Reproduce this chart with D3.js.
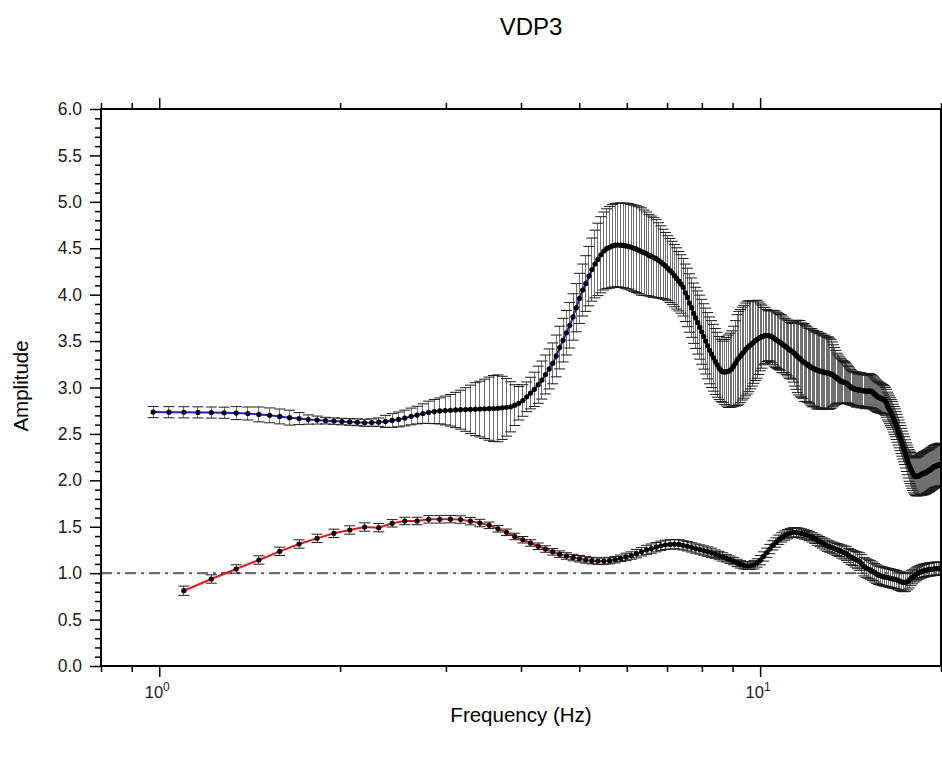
<!DOCTYPE html>
<html>
<head>
<meta charset="utf-8">
<script src="https://cdn.jsdelivr.net/npm/d3@7"></script>
<style>
  body { margin: 0; background: #fff; }
  svg { display: block; font-family: "Liberation Sans", Arial, Helvetica, sans-serif; }
</style>
</head>
<body>
<svg id="chart" width="942" height="757"></svg>
<script>
// ---- Spectral ratio for station VDP3 ----
// Upper curve: amplitude spectrum (0.061 Hz bins), mean +/- one standard deviation
const upperFreq = [
0.977,1.038,1.099,1.160,1.221,1.282,1.343,1.404,1.465,1.526,
1.587,1.648,1.709,1.770,1.831,1.892,1.953,2.014,2.075,2.136,
2.197,2.258,2.319,2.380,2.441,2.502,2.563,2.625,2.686,2.747,
2.808,2.869,2.930,2.991,3.052,3.113,3.174,3.235,3.296,3.357,
3.418,3.479,3.540,3.601,3.662,3.723,3.784,3.845,3.906,3.967,
4.028,4.089,4.150,4.211,4.272,4.333,4.395,4.456,4.517,4.578,
4.639,4.700,4.761,4.822,4.883,4.944,5.005,5.066,5.127,5.188,
5.249,5.310,5.371,5.432,5.493,5.554,5.615,5.676,5.737,5.798,
5.859,5.920,5.981,6.042,6.104,6.165,6.226,6.287,6.348,6.409,
6.470,6.531,6.592,6.653,6.714,6.775,6.836,6.897,6.958,7.019,
7.080,7.141,7.202,7.263,7.324,7.385,7.446,7.507,7.568,7.629,
7.690,7.751,7.812,7.874,7.935,7.996,8.057,8.118,8.179,8.240,
8.301,8.362,8.423,8.484,8.545,8.606,8.667,8.728,8.789,8.850,
8.911,8.972,9.033,9.094,9.155,9.216,9.277,9.338,9.399,9.460,
9.521,9.583,9.644,9.705,9.766,9.827,9.888,9.949,10.010,10.071,
10.132,10.193,10.254,10.315,10.376,10.437,10.498,10.559,10.620,10.681,
10.742,10.803,10.864,10.925,10.986,11.047,11.108,11.169,11.230,11.292,
11.353,11.414,11.475,11.536,11.597,11.658,11.719,11.780,11.841,11.902,
11.963,12.024,12.085,12.146,12.207,12.268,12.329,12.390,12.451,12.512,
12.573,12.634,12.695,12.756,12.817,12.878,12.939,13.000,13.062,13.123,
13.184,13.245,13.306,13.367,13.428,13.489,13.550,13.611,13.672,13.733,
13.794,13.855,13.916,13.977,14.038,14.099,14.160,14.221,14.282,14.343,
14.404,14.465,14.526,14.587,14.648,14.709,14.771,14.832,14.893,14.954,
15.015,15.076,15.137,15.198,15.259,15.320,15.381,15.442,15.503,15.564,
15.625,15.686,15.747,15.808,15.869,15.930,15.991,16.052,16.113,16.174,
16.235,16.296,16.357,16.418,16.479,16.541,16.602,16.663,16.724,16.785,
16.846,16.907,16.968,17.029,17.090,17.151,17.212,17.273,17.334,17.395,
17.456,17.517,17.578,17.639,17.700,17.761,17.822,17.883,17.944,18.005,
18.066,18.127,18.188,18.249,18.311,18.372,18.433,18.494,18.555,18.616,
18.677,18.738,18.799,18.860,18.921,18.982,19.043,19.104,19.165,19.226,
19.287,19.348,19.409,19.470,19.531,19.592,19.653,19.714,19.775,19.836,
19.897,19.958
];
const upperAmp = [
2.735,2.734,2.733,2.732,2.730,2.728,2.724,2.72,2.71,2.70,
2.688,2.675,2.665,2.655,2.649,2.643,2.638,2.633,2.629,2.625,
2.620,2.622,2.627,2.635,2.645,2.656,2.671,2.688,2.703,2.719,
2.733,2.741,2.748,2.752,2.755,2.758,2.761,2.763,2.765,2.767,
2.768,2.770,2.772,2.774,2.776,2.781,2.786,2.792,2.81,2.83,
2.86,2.90,2.94,2.98,3.03,3.08,3.14,3.20,3.26,3.34,
3.43,3.51,3.59,3.67,3.76,3.86,3.96,4.05,4.12,4.20,
4.27,4.33,4.38,4.43,4.47,4.495,4.51,4.525,4.533,4.535,
4.533,4.53,4.525,4.52,4.51,4.50,4.49,4.478,4.465,4.452,
4.44,4.425,4.412,4.40,4.388,4.37,4.352,4.33,4.31,4.285,
4.26,4.235,4.205,4.175,4.145,4.115,4.08,4.02,3.97,3.91,
3.86,3.80,3.75,3.70,3.65,3.60,3.55,3.50,3.45,3.40,
3.36,3.32,3.28,3.245,3.21,3.185,3.17,3.168,3.17,3.175,
3.185,3.20,3.23,3.26,3.295,3.32,3.34,3.365,3.385,3.41,
3.43,3.445,3.46,3.475,3.49,3.505,3.52,3.53,3.54,3.548,
3.555,3.56,3.56,3.558,3.555,3.55,3.54,3.53,3.515,3.505,
3.495,3.485,3.47,3.46,3.45,3.44,3.425,3.41,3.40,3.39,
3.378,3.365,3.35,3.335,3.32,3.31,3.295,3.28,3.27,3.26,
3.25,3.24,3.23,3.22,3.212,3.205,3.198,3.19,3.186,3.182,
3.178,3.174,3.17,3.167,3.164,3.16,3.157,3.154,3.15,3.145,
3.14,3.13,3.12,3.11,3.10,3.09,3.08,3.07,3.065,3.06,
3.055,3.05,3.045,3.035,3.025,3.015,3.005,2.995,2.99,2.985,
2.98,2.978,2.976,2.974,2.972,2.97,2.968,2.966,2.964,2.962,
2.962,2.961,2.96,2.96,2.96,2.958,2.95,2.94,2.93,2.92,
2.91,2.90,2.895,2.89,2.885,2.88,2.875,2.87,2.865,2.85,
2.83,2.80,2.78,2.76,2.74,2.72,2.70,2.67,2.645,2.62,
2.59,2.56,2.53,2.50,2.47,2.44,2.41,2.38,2.35,2.32,
2.285,2.25,2.22,2.19,2.16,2.14,2.12,2.10,2.08,2.06,
2.05,2.04,2.04,2.042,2.045,2.05,2.055,2.06,2.065,2.07,
2.073,2.076,2.08,2.085,2.09,2.095,2.10,2.105,2.11,2.12,
2.125,2.13,2.14,2.145,2.15,2.153,2.156,2.16,2.163,2.166,
2.168,2.17
];
const upperErr = [
.06,.06,.06,.06,.06,.06,.07,.07,.08,.08,
.08,.08,.065,.05,.043,.036,.035,.035,.036,.037,
.038,.04,.045,.065,.074,.08,.085,.09,.095,.105,
.12,.13,.14,.155,.17,.19,.21,.235,.26,.285,
.30,.32,.34,.355,.36,.34,.31,.27,.22,.18,
.17,.16,.17,.185,.2,.205,.21,.215,.22,.225,
.23,.235,.24,.245,.25,.26,.27,.28,.30,.32,
.34,.365,.39,.41,.42,.43,.44,.445,.45,.45,
.455,.455,.46,.46,.463,.465,.467,.468,.47,.46,
.45,.44,.435,.43,.42,.405,.39,.375,.36,.35,
.345,.34,.335,.33,.32,.315,.31,.31,.315,.315,
.32,.325,.33,.34,.345,.35,.352,.355,.357,.36,
.36,.36,.355,.35,.34,.335,.33,.35,.37,.39,
.40,.41,.43,.46,.49,.5,.5,.5,.5,.5,
.5,.49,.475,.46,.445,.43,.42,.39,.36,.34,
.31,.30,.28,.27,.27,.28,.29,.30,.30,.30,
.30,.30,.31,.30,.29,.30,.30,.31,.30,.30,
.32,.35,.37,.39,.40,.41,.40,.40,.42,.41,
.405,.40,.405,.41,.42,.41,.40,.41,.42,.405,
.40,.41,.395,.39,.40,.385,.385,.39,.38,.37,
.35,.33,.31,.29,.27,.26,.25,.245,.24,.23,
.225,.22,.21,.205,.20,.195,.19,.185,.183,.18,
.18,.19,.18,.17,.18,.19,.18,.17,.18,.19,
.18,.17,.18,.19,.18,.178,.176,.174,.172,.17,
.168,.166,.164,.162,.16,.158,.156,.154,.152,.15,
.15,.15,.15,.15,.15,.15,.15,.15,.15,.15,
.15,.15,.15,.15,.15,.15,.15,.15,.15,.15,
.152,.155,.16,.165,.17,.175,.18,.185,.19,.195,
.20,.20,.205,.21,.21,.215,.22,.22,.225,.225,
.23,.23,.23,.23,.23,.23,.23,.23,.23,.23,
.23,.23,.23,.23,.23,.23,.23,.23,.23,.23,
.23,.23
];

// Lower curve: spectral ratio (0.122 Hz bins), mean +/- one standard deviation
const lowerFreq = [
1.099,1.221,1.343,1.465,1.587,1.709,1.831,1.953,2.075,2.197,
2.319,2.441,2.563,2.686,2.808,2.930,3.052,3.174,3.296,3.418,
3.540,3.662,3.784,3.906,4.028,4.150,4.272,4.395,4.517,4.639,
4.761,4.883,5.005,5.127,5.249,5.371,5.493,5.615,5.737,5.859,
5.981,6.104,6.226,6.348,6.470,6.592,6.714,6.836,6.958,7.080,
7.202,7.324,7.446,7.568,7.690,7.812,7.935,8.057,8.179,8.301,
8.423,8.545,8.667,8.789,8.911,9.033,9.155,9.277,9.399,9.521,
9.644,9.766,9.888,10.010,10.132,10.254,10.376,10.498,10.620,10.742,
10.864,10.986,11.108,11.230,11.353,11.475,11.597,11.719,11.841,11.963,
12.085,12.207,12.329,12.451,12.573,12.695,12.817,12.939,13.062,13.184,
13.306,13.428,13.550,13.672,13.794,13.916,14.038,14.160,14.282,14.404,
14.526,14.648,14.771,14.893,15.015,15.137,15.259,15.381,15.503,15.625,
15.747,15.869,15.991,16.113,16.235,16.357,16.479,16.602,16.724,16.846,
16.968,17.090,17.212,17.334,17.456,17.578,17.700,17.822,17.944,18.066,
18.188,18.311,18.433,18.555,18.677,18.799,18.921,19.043,19.165,19.287,
19.409,19.531,19.653,19.775,19.897
];
const lowerAmp = [
0.811,0.937,1.045,1.142,1.235,1.314,1.375,1.429,1.465,1.497,
1.49,1.537,1.562,1.562,1.58,1.58,1.582,1.578,1.56,1.54,
1.515,1.478,1.44,1.395,1.36,1.325,1.29,1.26,1.23,1.205,
1.185,1.168,1.155,1.143,1.135,1.13,1.13,1.135,1.145,1.16,
1.175,1.19,1.21,1.23,1.25,1.265,1.28,1.295,1.305,1.31,
1.312,1.31,1.30,1.29,1.278,1.265,1.255,1.243,1.232,1.22,
1.205,1.19,1.175,1.16,1.145,1.13,1.11,1.095,1.085,1.08,
1.082,1.09,1.11,1.14,1.18,1.22,1.26,1.30,1.33,1.36,
1.385,1.405,1.42,1.432,1.44,1.44,1.435,1.428,1.418,1.41,
1.40,1.385,1.37,1.355,1.34,1.325,1.31,1.295,1.285,1.275,
1.265,1.255,1.245,1.233,1.222,1.21,1.19,1.175,1.162,1.15,
1.138,1.125,1.10,1.07,1.055,1.045,1.035,1.02,1.005,0.99,
0.978,0.972,0.966,0.96,0.955,0.95,0.945,0.94,0.935,0.93,
0.922,0.913,0.905,0.90,0.90,0.91,0.925,0.945,0.96,0.975,
0.988,1.0,1.01,1.018,1.024,1.03,1.034,1.038,1.04,1.042,
1.045,1.047,1.05,1.05,1.05
];
const lowerErr = [
.05,.045,.045,.045,.045,.045,.045,.045,.045,.045,
.045,.04,.04,.04,.04,.04,.04,.04,.04,.04,
.035,.035,.035,.035,.035,.035,.035,.035,.035,.035,
.035,.035,.035,.035,.035,.035,.035,.035,.035,.035,
.04,.04,.045,.045,.05,.05,.05,.05,.05,.05,
.05,.05,.05,.05,.05,.05,.05,.05,.05,.05,
.045,.045,.045,.04,.04,.04,.04,.04,.04,.04,
.04,.045,.045,.05,.05,.05,.05,.05,.05,.05,
.05,.05,.05,.05,.05,.05,.05,.05,.05,.05,
.05,.05,.05,.055,.055,.055,.06,.06,.06,.06,
.06,.065,.065,.07,.07,.075,.075,.08,.08,.085,
.09,.095,.1,.1,.1,.1,.1,.1,.1,.1,
.1,.1,.1,.1,.1,.1,.1,.1,.1,.1,
.1,.1,.1,.1,.095,.09,.085,.08,.075,.07,
.07,.07,.07,.07,.07,.07,.07,.07,.07,.07,
.07,.07,.07,.07,.07
];

// Axis settings
const xDomain = [0.8, 20];
const xMajorTicks = [1, 10];
const xMajorLabels = [["10", "0"], ["10", "1"]];
const xMinorTicks = [0.8, 0.9, 2, 3, 4, 5, 6, 7, 8, 9, 20];
const yDomain = [0, 6];
const yMajorTicks = [0, 0.5, 1, 1.5, 2, 2.5, 3, 3.5, 4, 4.5, 5, 5.5, 6];
const referenceLevel = 1.0;
const titleText = "VDP3";
const xTitle = "Frequency (Hz)";
const yTitle = "Amplitude";

// ---- Layout ----
const plot = { left: 101, right: 941, top: 109, bottom: 666 };
const svg = d3.select("#chart");

const x = d3.scaleLog().domain(xDomain).range([plot.left, plot.right]);
const y = d3.scaleLinear().domain(yDomain).range([plot.bottom, plot.top]);

const yMinorTicks = d3.range(0, 60.5, 1).map(v => v / 10)
  .filter(v => Math.abs(v * 2 - Math.round(v * 2)) > 1e-6);

svg.append("defs").append("clipPath").attr("id", "plotClip")
  .append("rect")
  .attr("x", plot.left).attr("y", plot.top)
  .attr("width", plot.right - plot.left).attr("height", plot.bottom - plot.top);

// Reference line at amplitude 1
svg.append("line")
  .attr("x1", plot.left).attr("x2", plot.right)
  .attr("y1", y(referenceLevel)).attr("y2", y(referenceLevel))
  .attr("stroke", "#6e6e6e").attr("stroke-width", 2.2)
  .attr("stroke-dasharray", "11,5,3,5");

const dataLayer = svg.append("g").attr("clip-path", "url(#plotClip)");

function drawSeries(freq, amp, err, lineColor) {
  const pts = freq.map((f, i) => ({ f, a: amp[i], e: err[i] }));
  const g = dataLayer.append("g");
  const cap = 5.5;
  // vertical error bars
  g.append("g").attr("shape-rendering", "crispEdges")
    .selectAll("line").data(pts).join("line")
    .attr("x1", d => x(d.f)).attr("x2", d => x(d.f))
    .attr("y1", d => y(d.a - d.e)).attr("y2", d => y(d.a + d.e))
    .attr("stroke", "#707070").attr("stroke-width", 1);
  // caps
  const caps = g.append("g").attr("stroke", "#1a1a1a").attr("stroke-width", 1);
  caps.selectAll("line.top").data(pts).join("line").attr("class", "top")
    .attr("x1", d => x(d.f) - cap).attr("x2", d => x(d.f) + cap)
    .attr("y1", d => y(d.a + d.e)).attr("y2", d => y(d.a + d.e));
  caps.selectAll("line.bot").data(pts).join("line").attr("class", "bot")
    .attr("x1", d => x(d.f) - cap).attr("x2", d => x(d.f) + cap)
    .attr("y1", d => y(d.a - d.e)).attr("y2", d => y(d.a - d.e));
  // connecting line
  g.append("path").datum(pts)
    .attr("fill", "none").attr("stroke", lineColor).attr("stroke-width", 2)
    .attr("d", d3.line().x(d => x(d.f)).y(d => y(d.a)));
  // markers
  g.append("g").selectAll("circle").data(pts).join("circle")
    .attr("cx", d => x(d.f)).attr("cy", d => y(d.a)).attr("r", 2.6)
    .attr("fill", "#000");
}

drawSeries(upperFreq, upperAmp, upperErr, "#1f1fd6");
drawSeries(lowerFreq, lowerAmp, lowerErr, "#e8161b");

// ---- Axes ----
const axisStyle = g => {
  g.select(".domain").remove();
  g.selectAll(".tick line").attr("stroke", "#000").attr("stroke-width", 1.5);
};

// left
svg.append("g").attr("transform", `translate(${plot.left},0)`)
  .call(d3.axisLeft(y).tickValues(yMajorTicks).tickSize(11).tickPadding(8)
    .tickFormat(d3.format(".1f")))
  .call(axisStyle)
  .call(g => g.selectAll(".tick text")
    .style("font-size", "17.5px")
    .style("font-family", '"Liberation Sans", Arial, sans-serif')
    .style("fill", "#1a1a1a"));
svg.append("g").attr("transform", `translate(${plot.left},0)`)
  .call(d3.axisLeft(y).tickValues(yMinorTicks).tickSize(6).tickFormat(""))
  .call(axisStyle);

// bottom
svg.append("g").attr("transform", `translate(0,${plot.bottom})`)
  .call(d3.axisBottom(x).tickValues(xMajorTicks).tickSize(11).tickFormat(""))
  .call(axisStyle);
svg.append("g").attr("transform", `translate(0,${plot.bottom})`)
  .call(d3.axisBottom(x).tickValues(xMinorTicks).tickSize(6).tickFormat(""))
  .call(axisStyle);

// top
svg.append("g").attr("transform", `translate(0,${plot.top})`)
  .call(d3.axisTop(x).tickValues(xMajorTicks).tickSize(11).tickFormat(""))
  .call(axisStyle);
svg.append("g").attr("transform", `translate(0,${plot.top})`)
  .call(d3.axisTop(x).tickValues(xMinorTicks).tickSize(6).tickFormat(""))
  .call(axisStyle);

// power-of-ten labels
xMajorTicks.forEach((t, i) => {
  const txt = svg.append("text")
    .attr("x", x(t) - 2).attr("y", plot.bottom + 32)
    .attr("text-anchor", "middle")
    .style("font-size", "16.5px").style("fill", "#1a1a1a");
  txt.append("tspan").text(xMajorLabels[i][0]);
  txt.append("tspan").attr("dy", -7).style("font-size", "12px").text(xMajorLabels[i][1]);
});

// frame
svg.append("rect")
  .attr("x", plot.left).attr("y", plot.top)
  .attr("width", plot.right - plot.left).attr("height", plot.bottom - plot.top)
  .attr("fill", "none").attr("stroke", "#000").attr("stroke-width", 2);

// titles
svg.append("text").attr("x", 531).attr("y", 35).attr("text-anchor", "middle")
  .style("font-size", "24px").style("fill", "#000").text(titleText);
svg.append("text").attr("x", 521).attr("y", 722).attr("text-anchor", "middle")
  .style("font-size", "20.5px").style("fill", "#000").text(xTitle);
svg.append("text").attr("transform", "translate(28,386) rotate(-90)")
  .attr("text-anchor", "middle")
  .style("font-size", "20.5px").style("fill", "#000").text(yTitle);
</script>
</body>
</html>
